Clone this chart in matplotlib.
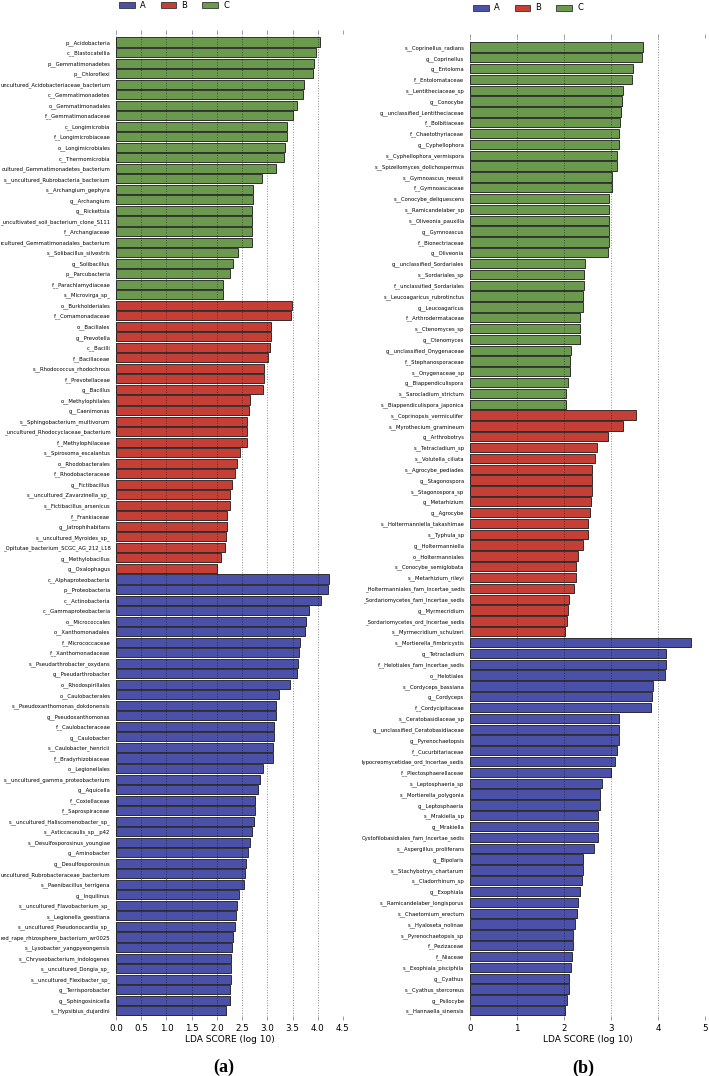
import matplotlib
matplotlib.use("Agg")
import matplotlib.pyplot as plt
from matplotlib.patches import Patch
import numpy as np

plt.rcParams['font.family'] = ['DejaVu Sans']

col_a = '#4b50a9'
col_b = '#c63f37'
col_c = '#6b9a4f'

# ---- panel (a) ----
a_c_names = ["p__Acidobacteria", "c__Blastocatellia", "p__Gemmatimonadetes", "p__Chloroflexi",
             "uncultured_Acidobacteriaceae_bacterium", "c__Gemmatimonadetes", "o__Gemmatimonadales",
             "f__Gemmatimonadaceae", "c__Longimicrobia", "f__Longimicrobiaceae", "o__Longimicrobiales",
             "c__Thermomicrobia", "cultured_Gemmatimonadetes_bacterium",
             "s__uncultured_Rubrobacteria_bacterium", "s__Archangium_gephyra", "g__Archangium",
             "g__Rickettsia", "_uncultivated_soil_bacterium_clone_S111", "f__Archangiaceae",
             "ıcultured_Gemmatimonadales_bacterium", "s__Solibacillus_silvestris", "g__Solibacillus",
             "p__Parcubacteria", "f__Parachlamydiaceae", "s__Microvirga_sp_"]
a_c_vals = [4.05, 3.96, 3.93, 3.91, 3.73, 3.71, 3.58, 3.50, 3.39, 3.38, 3.36, 3.33, 3.17,
            2.89, 2.72, 2.72, 2.70, 2.70, 2.69, 2.69, 2.42, 2.32, 2.25, 2.13, 2.13]

a_b_names = ["o__Burkholderiales", "f__Comamonadaceae", "o__Bacillales", "g__Prevotella", "c__Bacilli",
             "f__Bacillaceae", "s__Rhodococcus_rhodochrous", "f__Prevotellaceae", "g__Bacillus",
             "o__Methylophilales", "g__Caenimonas", "s__Sphingobacterium_multivorum",
             "_uncultured_Rhodocyclaceae_bacterium", "f__Methylophilaceae", "s__Spirosoma_escalantus",
             "o__Rhodobacterales", "f__Rhodobacteraceae", "g__Fictibacillus",
             "s__uncultured_Zavarzinella_sp_", "s__Fictibacillus_arsenicus", "f__Frankiaceae",
             "g__Jatrophihabitans", "s__uncultured_Myroides_sp_", "_Opitutae_bacterium_SCGC_AG_212_L18",
             "g__Methylobacillus", "g__Oxalophagus"]
a_b_vals = [3.48, 3.46, 3.08, 3.07, 3.06, 3.01, 2.94, 2.93, 2.92, 2.66, 2.64, 2.59, 2.59, 2.59,
            2.45, 2.39, 2.35, 2.30, 2.26, 2.25, 2.20, 2.20, 2.18, 2.17, 2.08, 2.01]

a_a_names = ["c__Alphaproteobacteria", "p__Proteobacteria", "c__Actinobacteria", "c__Gammaproteobacteria",
             "o__Micrococcales", "o__Xanthomonadales", "f__Micrococcaceae", "f__Xanthomonadaceae",
             "s__Pseudarthrobacter_oxydans", "g__Pseudarthrobacter", "o__Rhodospirillales",
             "o__Caulobacterales", "s__Pseudoxanthomonas_dokdonensis", "g__Pseudoxanthomonas",
             "f__Caulobacteraceae", "g__Caulobacter", "s__Caulobacter_henricii", "f__Bradyrhizobiaceae",
             "o__Legionellales", "s__uncultured_gamma_proteobacterium", "g__Aquicella", "f__Coxiellaceae",
             "f__Saprospiraceae", "s__uncultured_Haliscomenobacter_sp_", "s__Asticcacaulis_sp__p42",
             "s__Desulfosporosinus_youngiae", "g__Aminobacter", "g__Desulfosporosinus",
             "uncultured_Rubrobacteraceae_bacterium", "s__Paenibacillus_terrigena", "g__Inquilinus",
             "s__uncultured_Flavobacterium_sp_", "s__Legionella_geestiana",
             "s__uncultured_Pseudonocardia_sp_", "red_rape_rhizosphere_bacterium_wr0025",
             "s__Lysobacter_yangpyeongensis", "s__Chryseobacterium_indologenes", "s__uncultured_Dongia_sp_",
             "s__uncultured_Flexibacter_sp_", "g__Terrisporobacter", "g__Sphingosinicella",
             "s__Hypsibius_dujardini"]
a_a_vals = [4.23, 4.20, 4.06, 3.83, 3.77, 3.75, 3.64, 3.62, 3.60, 3.59, 3.44, 3.23, 3.18, 3.17,
            3.14, 3.13, 3.12, 3.11, 2.91, 2.86, 2.82, 2.76, 2.75, 2.74, 2.70, 2.65, 2.61, 2.57,
            2.55, 2.53, 2.43, 2.39, 2.37, 2.35, 2.32, 2.30, 2.28, 2.27, 2.27, 2.26, 2.26, 2.18]

# ---- panel (b) ----
b_c_names = ["s__Coprinellus_radians", "g__Coprinellus", "g__Entoloma", "f__Entolomataceae",
             "s__Lentitheciaceae_sp", "g__Conocybe", "g__unclassified_Lentitheciaceae", "f__Bolbitiaceae",
             "f__Chaetothyriaceae", "g__Cyphellophora", "s__Cyphellophora_vermispora",
             "s__Spizellomyces_dolichospermus", "s__Gymnoascus_reessii", "f__Gymnoascaceae",
             "s__Conocybe_deliquescens", "s__Ramicandelaber_sp", "s__Oliveonia_pauxilla", "g__Gymnoascus",
             "f__Bionectriaceae", "g__Oliveonia", "g__unclassified_Sordariales", "s__Sordariales_sp",
             "f__unclassified_Sordariales", "s__Leucoagaricus_rubrotinctus", "g__Leucoagaricus",
             "f__Arthrodermataceae", "s__Ctenomyces_sp", "g__Ctenomyces", "g__unclassified_Onygenaceae",
             "f__Stephanosporaceae", "s__Onygenaceae_sp", "g__Biappendiculispora",
             "s__Sarocladium_strictum", "s__Biappendiculispora_japonica"]
b_c_vals = [3.68, 3.65, 3.47, 3.44, 3.25, 3.24, 3.22, 3.19, 3.18, 3.17, 3.12, 3.12, 3.02, 3.02,
            2.95, 2.95, 2.95, 2.95, 2.95, 2.93, 2.44, 2.43, 2.42, 2.41, 2.40, 2.35, 2.35, 2.35,
            2.14, 2.13, 2.13, 2.08, 2.05, 2.05]

b_b_names = ["s__Coprinopsis_vermiculifer", "s__Myrothecium_gramineum", "g__Arthrobotrys",
             "s__Tetracladium_sp", "s__Volutella_ciliata", "s__Agrocybe_pediades", "g__Stagonospora",
             "s__Stagonospora_sp", "g__Metarhizium", "g__Agrocybe", "s__Holtermanniella_takashimae",
             "s__Typhula_sp", "g__Holtermanniella", "o__Holtermanniales", "s__Conocybe_semiglobata",
             "s__Metarhizium_rileyi", "_Holtermanniales_fam_Incertae_sedis",
             "_Sordariomycetes_fam_Incertae_sedis", "g__Myrmecridium",
             "_Sordariomycetes_ord_Incertae_sedis", "s__Myrmecridium_schulzeri"]
b_b_vals = [3.53, 3.26, 2.94, 2.70, 2.65, 2.60, 2.60, 2.59, 2.58, 2.56, 2.52, 2.52, 2.40, 2.29,
            2.26, 2.25, 2.22, 2.10, 2.08, 2.06, 2.03]

b_a_names = ["s__Mortierella_fimbricystis", "g__Tetracladium", "f__Helotiales_fam_Incertae_sedis",
             "o__Helotiales", "s__Cordyceps_bassiana", "g__Cordyceps", "f__Cordycipitaceae",
             "s__Ceratobasidiaceae_sp", "g__unclassified_Ceratobasidiaceae", "g__Pyrenochaetopsis",
             "f__Cucurbitariaceae", "lypocreomycetidae_ord_Incertae_sedis", "f__Plectosphaerellaceae",
             "s__Leptosphaeria_sp", "s__Mortierella_polygonia", "g__Leptosphaeria", "s__Mrakiella_sp",
             "g__Mrakiella", "Cystofilobasidiales_fam_Incertae_sedis", "s__Aspergillus_proliferans",
             "g__Bipolaris", "s__Stachybotrys_chartarum", "s__Cladorrhinum_sp", "g__Exophiala",
             "s__Ramicandelaber_longisporus", "s__Chaetomium_erectum", "s__Hyaloseta_nolinae",
             "s__Pyrenochaetopsis_sp", "f__Pezizaceae", "f__Niaceae", "s__Exophiala_pisciphila",
             "g__Cyathus", "s__Cyathus_stercoreus", "g__Psilocybe", "s__Hannaella_sinensis"]
b_a_vals = [4.70, 4.17, 4.16, 4.14, 3.89, 3.88, 3.85, 3.17, 3.16, 3.16, 3.13, 3.08, 3.01, 2.80,
            2.77, 2.77, 2.73, 2.72, 2.72, 2.63, 2.41, 2.40, 2.38, 2.35, 2.30, 2.28, 2.23, 2.19,
            2.19, 2.17, 2.14, 2.11, 2.10, 2.06, 2.03]

a_ticks = [0.0, 0.5, 1.0, 1.5, 2.0, 2.5, 3.0, 3.5, 4.0, 4.5]
b_ticks = [0, 1, 2, 3, 4, 5]


def draw_panel(ax, groups, xticks, ticklabels, top_pad, bot_pad):
    names, vals, cols = [], [], []
    for nm, vs, c in groups:
        names += nm
        vals += vs
        cols += [c] * len(nm)
    vals = np.array(vals)
    y = np.arange(len(names))
    # light grey shadow under the bars
    ax.barh(y + 0.09, vals + 0.012, height=0.86, color='#b4b4b4', linewidth=0, zorder=1)
    ax.barh(y, vals, height=0.86, color=cols, edgecolor='#1e1e1e', linewidth=0.6, zorder=2)
    ax.set_yticks(y)
    ax.set_yticklabels(names)
    ax.set_ylim(len(names) - 1 + bot_pad, -top_pad)
    ax.set_xlim(xticks[0], xticks[-1])
    ax.set_xticks(xticks)
    ax.set_xticklabels(ticklabels)
    for s in ax.spines.values():
        s.set_visible(False)
    ax.tick_params(axis='y', length=0, pad=4, labelsize=3.75)
    ax.tick_params(axis='x', top=True, bottom=True, direction='out', length=3,
                   width=0.5, color='0.45', labelsize=6.3, pad=3)
    ax.grid(axis='x', color='k', alpha=0.45, linestyle=':', linewidth=0.7, zorder=3)
    ax.set_axisbelow(False)
    ax.set_xlabel('LDA SCORE (log 10)', fontsize=6.5, labelpad=1.5)


W, H = 709, 1076
fig = plt.figure(figsize=(W / 100, H / 100), dpi=100)

ax1 = fig.add_axes([116 / W, 1 - 1016 / H, 227 / W, (1016 - 34) / H])
draw_panel(ax1, [(a_c_names, a_c_vals, col_c), (a_b_names, a_b_vals, col_b), (a_a_names, a_a_vals, col_a)],
           a_ticks, ['%.1f' % t for t in a_ticks], 0.76, 0.5)

ax2 = fig.add_axes([470 / W, 1 - 1016 / H, 235 / W, (1016 - 38) / H])
draw_panel(ax2, [(b_c_names, b_c_vals, col_c), (b_b_names, b_b_vals, col_b), (b_a_names, b_a_vals, col_a)],
           b_ticks, [str(t) for t in b_ticks], 0.83, 0.49)

handles = [Patch(facecolor=c, edgecolor='#333333', linewidth=0.6) for c in (col_a, col_b, col_c)]
for x0, y0 in [(119, 5), (473, 8)]:
    fig.legend(handles, ['A', 'B', 'C'], loc='center left', bbox_to_anchor=(x0 / W, 1 - y0 / H),
               ncol=3, frameon=False, fontsize=6, handlelength=1.9, handleheight=0.7,
               handletextpad=0.6, columnspacing=1.8, borderpad=0, borderaxespad=0)

fig.text(224 / W, 1 - 1067 / H, '(a)', ha='center', va='center',
         family='Liberation Serif', weight='bold', size=13)
fig.text(583 / W, 1 - 1068 / H, '(b)', ha='center', va='center',
         family='Liberation Serif', weight='bold', size=13)

fig.savefig('out.png', dpi=100)
